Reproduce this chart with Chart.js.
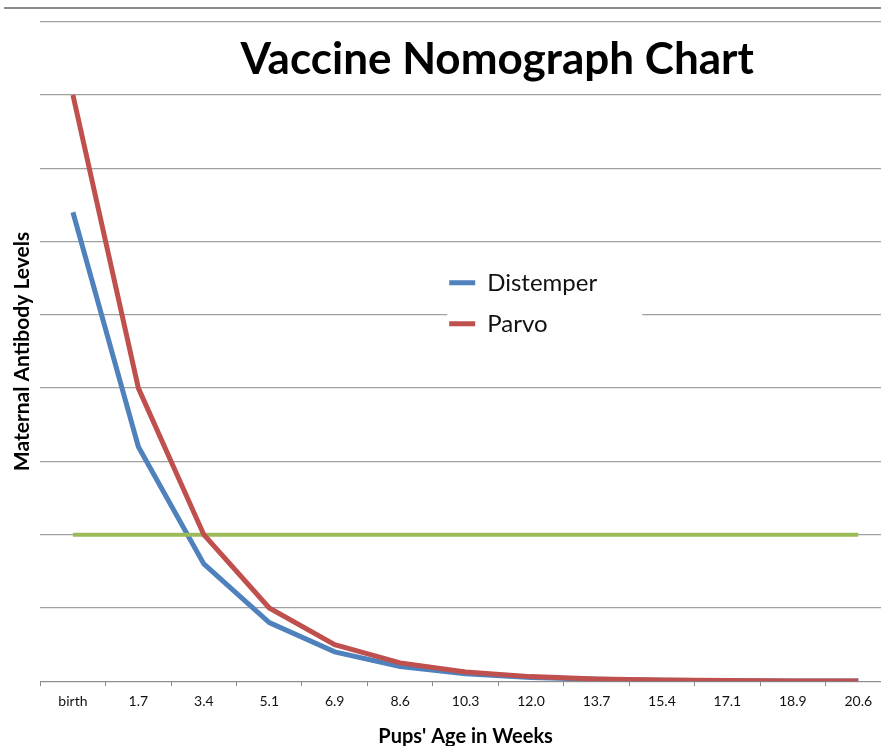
<!DOCTYPE html>
<html>
<head>
<meta charset="utf-8">
<script src="https://cdn.jsdelivr.net/npm/chart.js@4/dist/chart.umd.min.js"></script>
<style>
  html, body { margin: 0; padding: 0; background: #fff; overflow: hidden; }
  #wrap { position: relative; width: 881px; height: 746px; overflow: hidden; }
  #frame { position: absolute; top: 7px; left: 4px; width: 900px; height: 0; border-top: 2px solid #8c8c8c; z-index: 2; }
  canvas { position: absolute; top: 0; left: 0; z-index: 1; }
</style>
</head>
<body>
<div id="wrap">
  <div id="frame"></div>
  <canvas id="c" width="900" height="746"></canvas>
</div>
<script>
const categories = ['birth', '1.7', '3.4', '5.1', '6.9', '8.6', '10.3', '12.0', '13.7', '15.4', '17.1', '18.9', '20.6'];
const distemper = [6.4, 3.2, 1.6, 0.8, 0.4, 0.2, 0.1, 0.05, 0.025, 0.0125, 0.006, 0.003, 0.0015];
const parvo = [8.0, 4.0, 2.0, 1.0, 0.5, 0.25, 0.125, 0.0625, 0.031, 0.016, 0.008, 0.004, 0.002];
const threshold = [2, 2, 2, 2, 2, 2, 2, 2, 2, 2, 2, 2, 2];
const yTicks = [0, 1, 2, 3, 4, 5, 6, 7, 8, 9];

Chart.defaults.font.family = 'Lato, "Open Sans", sans-serif';

const placeBoxes = {
  id: 'placeBoxes',
  afterLayout(chart) {
    const ca = chart.chartArea;
    const t = chart.titleBlock;
    if (t) {
      t.left = ca.left + 54;
      t.right = chart.width;
    }
    const lg = chart.legend;
    if (lg) {
      const w = lg.width, h = lg.height;
      lg.left = ca.left + 392;
      lg.top = ca.top + 232;
      lg.right = lg.left + w;
      lg.bottom = lg.top + h;
      if (!lg._wrappedDraw) {
        const orig = lg.draw.bind(lg);
        lg.draw = function (area) {
          const ctx = chart.ctx;
          ctx.save();
          ctx.fillStyle = '#ffffff';
          ctx.fillRect(this.left + 15, this.top + 6, 195, 80);
          ctx.restore();
          orig(area);
        };
        lg._wrappedDraw = true;
      }
    }
  }
};

new Chart(document.getElementById('c'), {
  type: 'line',
  data: {
    labels: categories,
    datasets: [
      { label: 'Distemper', data: distemper, borderColor: '#4F81BD', backgroundColor: '#4F81BD', borderWidth: 5, pointRadius: 0, tension: 0, order: 2 },
      { label: 'Parvo', data: parvo, borderColor: '#C0504D', backgroundColor: '#C0504D', borderWidth: 5, pointRadius: 0, tension: 0, order: 0 },
      { label: 'Threshold', data: threshold, borderColor: '#9BBB59', backgroundColor: '#9BBB59', borderWidth: 4, pointRadius: 0, tension: 0, order: 1 }
    ]
  },
  options: {
    responsive: false,
    devicePixelRatio: 1,
    animation: false,
    layout: { padding: { left: 4, right: 9, top: 0, bottom: 0 } },
    plugins: {
      title: {
        display: true,
        text: 'Vaccine Nomograph Chart',
        color: '#000',
        font: { size: 44, weight: 'bold' },
        padding: { top: 33, bottom: -64 }
      },
      legend: {
        display: true,
        position: 'chartArea',
        align: 'start',
        labels: {
          usePointStyle: true,
          pointStyle: 'line',
          pointStyleWidth: 26,
          boxHeight: 4,
          padding: 17,
          color: '#111',
          font: { size: 24 },
          filter: (item) => item.datasetIndex !== 2,
          sort: (a, b) => a.datasetIndex - b.datasetIndex
        }
      },
      tooltip: { enabled: false }
    },
    scales: {
      x: {
        offset: true,
        grid: { display: true, drawOnChartArea: false, drawTicks: true, tickLength: 5, offset: true, color: '#8c8c8c' },
        border: { display: true, color: '#8c8c8c', width: 1 },
        ticks: { color: '#111', font: { size: 14 }, padding: 7, maxRotation: 0, autoSkip: false },
        title: { display: true, text: "Pups' Age in Weeks", color: '#000', font: { size: 20, weight: 'bold' }, padding: { top: 8, bottom: -3 } }
      },
      y: {
        min: 0,
        max: 9,
        afterBuildTicks: (scale) => { scale.ticks = yTicks.map(v => ({ value: v })); },
        grid: { display: true, drawTicks: false, color: '#a0a0a0', lineWidth: 1.3 },
        border: { display: false },
        ticks: { display: false },
        title: { display: true, text: 'Maternal Antibody Levels', color: '#000', font: { size: 21, weight: 'bold' }, padding: { top: 6, bottom: 5 } }
      }
    }
  },
  plugins: [placeBoxes]
});
</script>
</body>
</html>
